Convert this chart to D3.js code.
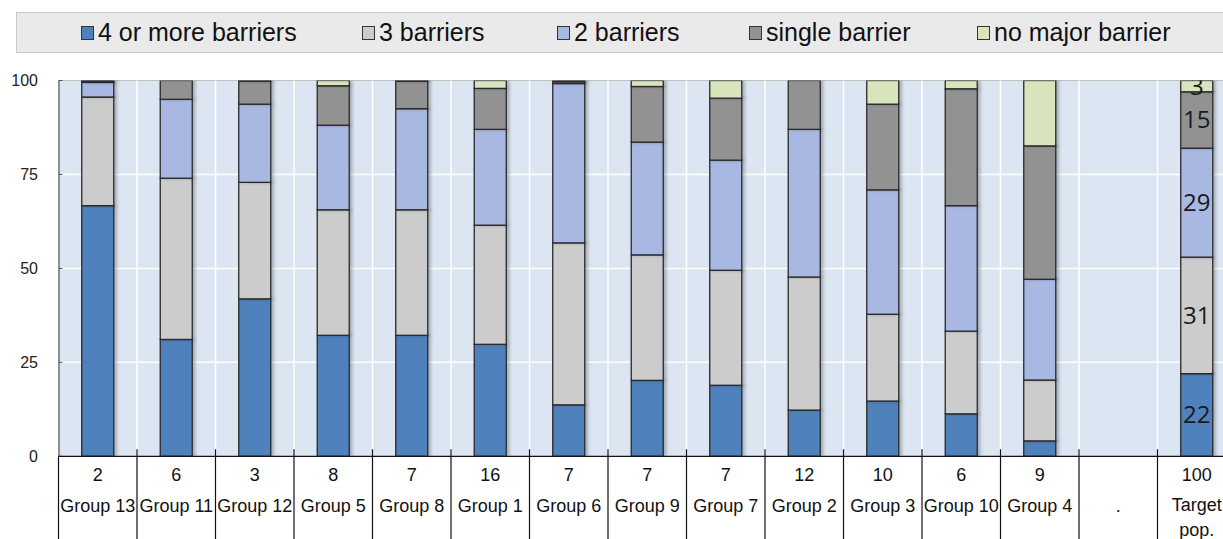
<!DOCTYPE html>
<html>
<head>
<meta charset="utf-8">
<script src="https://cdn.jsdelivr.net/npm/d3@7"></script>
<style>
  html, body { margin: 0; padding: 0; background: #fff; }
  svg { display: block; }
  text { font-family: "Liberation Sans", Arial, sans-serif; }
</style>
</head>
<body>
<svg id="chart" width="1223" height="539"></svg>
<script>
// ---------------- data ----------------
const categories = ["Group 13","Group 11","Group 12","Group 5","Group 8","Group 1","Group 6","Group 9","Group 7","Group 2","Group 3","Group 10","Group 4",".","Target pop."];
const shares     = ["2","6","3","8","7","16","7","7","7","12","10","6","9","","100"];
const seriesNames = ["4 or more barriers","3 barriers","2 barriers","single barrier","no major barrier"];
const fourOrMore = [66.7,31.1,41.9,32.2,32.2,29.8,13.7,20.2,18.9,12.3,14.7,11.3,4.1,0,22];
const three      = [28.9,42.9,31.0,33.4,33.4,31.7,43.1,33.4,30.6,35.4,23.1,22.0,16.2,0,31];
const two        = [3.9,21.0,20.8,22.5,26.9,25.5,42.4,30.0,29.3,39.3,33.1,33.4,26.8,0,29];
const single     = [0.3,5.0,6.1,10.5,7.3,10.9,0.5,14.8,16.5,13.0,22.8,31.1,35.5,0,15];
const noMajor    = [0.2,0,0.2,1.4,0.2,2.1,0.3,1.6,4.7,0,6.3,2.2,17.4,0,3];
const yTicks = [0,25,50,75,100];
const labelledCategory = "Target pop.";
const colors = ["#4f81bd","#cccccc","#a8b8e3","#929292","#d8e4bc"];

// ---------------- layout ----------------
const svg = d3.select("#chart");
const plotLeft = 58.5, plotTop = 80.5, plotBottom = 456.3, step = 78.5;
const plotRight = plotLeft + step * categories.length;

const xBand = d3.scaleBand().domain(categories).range([plotLeft, plotRight]).padding(0);
const barPad = 1 - 32 / step;
const xBar = d3.scaleBand().domain(categories).range([plotLeft, plotRight])
  .paddingInner(barPad).paddingOuter(barPad / 2);
const y = d3.scaleLinear().domain([0, 100]).range([plotBottom, plotTop]);

const rows = categories.map((c, i) => ({
  cat: c,
  "4 or more barriers": fourOrMore[i],
  "3 barriers": three[i],
  "2 barriers": two[i],
  "single barrier": single[i],
  "no major barrier": noMajor[i]
}));
const stacked = d3.stack().keys(seriesNames)(rows);

const defs = svg.append("defs");
defs.append("clipPath").attr("id", "plotClip").append("rect")
  .attr("x", plotLeft).attr("y", plotTop).attr("width", 1223 - plotLeft).attr("height", plotBottom - plotTop);
const f = defs.append("filter").attr("id", "shadow").attr("x", "-20%").attr("y", "-5%").attr("width", "150%").attr("height", "110%");
f.append("feDropShadow").attr("dx", 2.5).attr("dy", 0).attr("stdDeviation", 1.5)
  .attr("flood-color", "#000").attr("flood-opacity", 0.25);

// plot background
svg.append("rect").attr("x", plotLeft).attr("y", plotTop)
  .attr("width", 1223 - plotLeft).attr("height", plotBottom - plotTop)
  .attr("fill", "#dce6f2");

// horizontal grid
svg.append("g").selectAll("line").data(yTicks.filter(t => t > 0 && t < 100)).join("line")
  .attr("x1", plotLeft).attr("x2", 1223)
  .attr("y1", d => y(d)).attr("y2", d => y(d))
  .attr("stroke", "#ffffff").attr("stroke-width", 1.5);
// top border
svg.append("line").attr("x1", plotLeft).attr("x2", 1223).attr("y1", y(100)).attr("y2", y(100))
  .attr("stroke", "#c0c0c0").attr("stroke-width", 1.2);
// vertical grid at category boundaries
svg.append("g").selectAll("line").data(categories.slice(1)).join("line")
  .attr("x1", d => xBand(d)).attr("x2", d => xBand(d))
  .attr("y1", plotTop).attr("y2", plotBottom)
  .attr("stroke", "#ffffff").attr("stroke-width", 1.5);

// bars
const barsG = svg.append("g").attr("clip-path", "url(#plotClip)");
stacked.forEach((s, si) => {
  barsG.append("g").attr("filter", "url(#shadow)")
    .selectAll("rect").data(s.filter(d => d[1] - d[0] > 0)).join("rect")
    .attr("x", d => xBar(d.data.cat))
    .attr("width", xBar.bandwidth())
    .attr("y", d => y(d[1]))
    .attr("height", d => y(d[0]) - y(d[1]))
    .attr("fill", colors[si])
    .attr("stroke", "#2a2a2a").attr("stroke-width", 1.3);
});

// value labels on the target population bar
const labG = svg.append("g").attr("clip-path", "url(#plotClip)");
stacked.forEach((s) => {
  const d = s.find(e => e.data.cat === labelledCategory);
  labG.append("text")
    .attr("x", xBar(labelledCategory) + xBar.bandwidth() / 2)
    .attr("y", y((d[0] + d[1]) / 2) + 8.5)
    .attr("text-anchor", "middle")
    .style("font-family", "'Open Sans', sans-serif")
    .style("font-size", "24px")
    .attr("fill", "#1a1a1a")
    .text(d3.format("d")(d[1] - d[0]));
});

// y axis
const yAxis = d3.axisLeft(y).tickValues(yTicks).tickSize(0).tickPadding(20.5);
const yg = svg.append("g").attr("transform", `translate(${plotLeft},0)`).call(yAxis);
yg.select(".domain").attr("stroke", "#555").attr("stroke-width", 1.2);
yg.selectAll("text").style("font-size", "16px").style("font-family", "'Liberation Sans', Arial, sans-serif").attr("fill", "#222");
svg.append("g").selectAll("line").data(yTicks).join("line")
  .attr("x1", plotLeft).attr("x2", plotLeft + 4)
  .attr("y1", d => y(d)).attr("y2", d => y(d))
  .attr("stroke", "#555");

// x axis line and separators
svg.append("line").attr("x1", plotLeft).attr("x2", 1223).attr("y1", plotBottom).attr("y2", plotBottom)
  .attr("stroke", "#111").attr("stroke-width", 1.2);
svg.append("g").selectAll("line").data(categories).join("line")
  .attr("x1", d => xBand(d)).attr("x2", d => xBand(d))
  .attr("y1", d => d === categories[0] ? plotBottom : plotBottom - 7).attr("y2", 539)
  .attr("stroke", "#111").attr("stroke-width", 1.2);

// x labels
const xl = svg.append("g").attr("text-anchor", "middle").style("font-size", "18px").attr("fill", "#111");
xl.selectAll("text.n").data(categories).join("text").attr("class", "n")
  .attr("x", d => xBand(d) + step / 2).attr("y", 481)
  .text((d, i) => shares[i]);
categories.forEach(c => {
  const parts = c === "Target pop." ? ["Target", "pop."] : [c];
  parts.forEach((p, j) => {
    xl.append("text").attr("x", xBand(c) + step / 2).attr("y", (parts.length > 1 ? 511 : 512) + j * 24.5).text(p);
  });
});

// legend
svg.append("rect").attr("x", 16.5).attr("y", 12.5).attr("width", 1220).attr("height", 40)
  .attr("fill", "#eaeaea").attr("stroke", "#c9c9c9");
const legendX = [81, 362, 557, 749, 977];
const lg = svg.append("g");
seriesNames.forEach((n, i) => {
  lg.append("rect").attr("x", legendX[i] + 0.5).attr("y", 26.5).attr("width", 12).attr("height", 13)
    .attr("fill", colors[i]).attr("stroke", "#333").attr("stroke-width", 1);
  lg.append("text").attr("x", legendX[i] + 17).attr("y", 40.7)
    .style("font-size", "25px").attr("fill", "#111").text(n);
});
</script>
</body>
</html>
